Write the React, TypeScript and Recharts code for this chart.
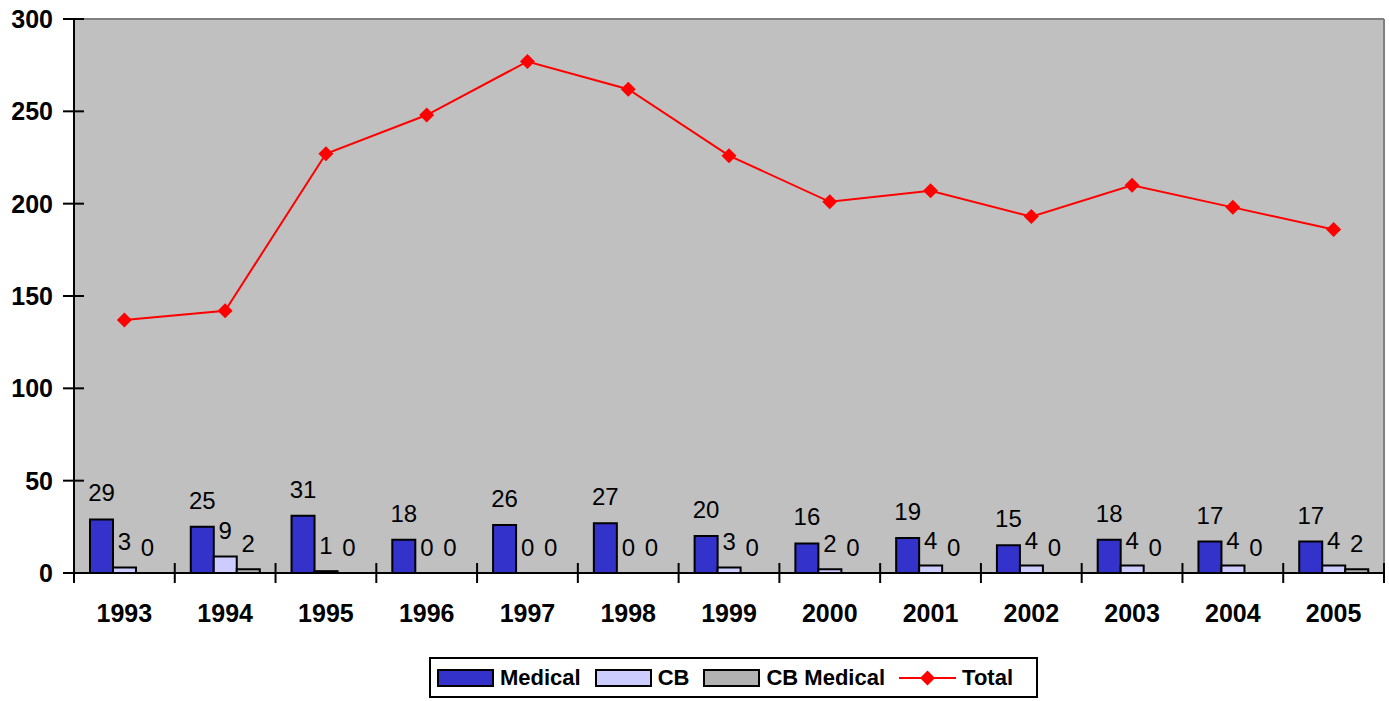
import React from 'react';
import {
  ComposedChart,
  Bar,
  Line,
  XAxis,
  YAxis,
  Legend,
  LabelList,
  CartesianGrid,
  ReferenceLine,
} from 'recharts';

const years = ['1993', '1994', '1995', '1996', '1997', '1998', '1999', '2000', '2001', '2002', '2003', '2004', '2005'];
const medical = [29, 25, 31, 18, 26, 27, 20, 16, 19, 15, 18, 17, 17];
const cb = [3, 9, 1, 0, 0, 0, 3, 2, 4, 4, 4, 4, 4];
const cbMedical = [0, 2, 0, 0, 0, 0, 0, 0, 0, 0, 0, 0, 2];
const total = [137, 142, 227, 248, 277, 262, 226, 201, 207, 193, 210, 198, 186];
const yTicks = [0, 50, 100, 150, 200, 250, 300];

const data = years.map((y, i) => ({
  year: y,
  Medical: medical[i],
  CB: cb[i],
  'CB Medical': cbMedical[i],
  Total: total[i],
}));

const FONT = '"Liberation Sans", Arial, sans-serif';

const COLORS = {
  Medical: '#3333CC',
  CB: '#CCCCFF',
  CBMedical: '#B2B2B2',
  Total: '#FF0000',
};

const YTick = (props: any) => {
  const { x, y, payload } = props;
  return (
    <g>
      <line x1={x - 11} x2={x + 10} y1={y} y2={y} stroke="#000" strokeWidth={2} />
      <text
        x={x - 21}
        y={y}
        dy={9}
        textAnchor="end"
        fontFamily={FONT}
        fontSize={25}
        fontWeight="bold"
        fill="#000"
      >
        {payload.value}
      </text>
    </g>
  );
};

const XTick = (props: any) => {
  const { x, y, payload, index, visibleTicksCount, width } = props;
  const half =
    payload && typeof payload.offset === 'number' && payload.offset > 0
      ? payload.offset
      : (width || 1310) / (visibleTicksCount || years.length) / 2;
  const isLast = index === (visibleTicksCount || years.length) - 1;
  return (
    <g>
      <line x1={x - half} x2={x - half} y1={y - 10} y2={y + 10} stroke="#000" strokeWidth={2} />
      {isLast && (
        <line x1={x + half} x2={x + half} y1={y - 10} y2={y + 10} stroke="#000" strokeWidth={2} />
      )}
      <text
        x={x}
        y={y}
        dy={49}
        textAnchor="middle"
        fontFamily={FONT}
        fontSize={25}
        fontWeight="bold"
        fill="#000"
      >
        {payload.value}
      </text>
    </g>
  );
};

const Diamond = (props: any) => {
  const { cx, cy } = props;
  if (cx == null || cy == null) return null;
  const r = 7.5;
  return (
    <polygon
      points={`${cx},${cy - r} ${cx + r},${cy} ${cx},${cy + r} ${cx - r},${cy}`}
      fill={COLORS.Total}
      stroke="none"
    />
  );
};

const makeValueLabel = (offset: number) => (props: any) => {
  const { x, y, width, value } = props;
  if (x == null || y == null || value == null) return null;
  return (
    <text
      x={Number(x) + Number(width) / 2}
      y={Number(y) - offset}
      textAnchor="middle"
      fontFamily={FONT}
      fontSize={24}
      fill="#000"
    >
      {value}
    </text>
  );
};

const legendItems = [
  { name: 'Medical', color: COLORS.Medical, type: 'rect' },
  { name: 'CB', color: COLORS.CB, type: 'rect' },
  { name: 'CB Medical', color: COLORS.CBMedical, type: 'rect' },
  { name: 'Total', color: COLORS.Total, type: 'line' },
];

const LegendContent = () => (
  <div
    style={{
      border: '2px solid #000',
      background: '#fff',
      height: 41,
      width: 609,
      boxSizing: 'border-box',
      display: 'flex',
      alignItems: 'center',
      paddingLeft: 6,
      fontFamily: FONT,
      fontSize: 22,
      fontWeight: 'bold',
      color: '#000',
      whiteSpace: 'nowrap',
    }}
  >
    {legendItems.map((it) => (
      <div key={it.name} style={{ display: 'flex', alignItems: 'center', marginRight: 14 }}>
        {it.type === 'rect' ? (
          <svg width={57} height={18} style={{ marginRight: 6 }}>
            <rect x={1} y={1} width={55} height={16} fill={it.color} stroke="#000" strokeWidth={2} />
          </svg>
        ) : (
          <svg width={57} height={18} style={{ marginRight: 6 }}>
            <line x1={0} x2={57} y1={9} y2={9} stroke={it.color} strokeWidth={2} />
            <polygon points="28.5,1.5 36,9 28.5,16.5 21,9" fill={it.color} />
          </svg>
        )}
        <span>{it.name}</span>
      </div>
    ))}
  </div>
);

export default function App() {
  return (
    <div style={{ position: 'absolute', left: 0, top: 0, width: 1389, height: 701, background: '#fff' }}>
      <ComposedChart
        width={1389}
        height={701}
        data={data}
        margin={{ top: 19, right: 0, left: 0, bottom: 3 }}
        barGap={0}
        barCategoryGap={16}
      >
        <CartesianGrid yAxisId="y" xAxisId="cat" fill="#C0C0C0" fillOpacity={1} horizontal={false} vertical={false} />
        <ReferenceLine yAxisId="y" xAxisId="cat" y={300} stroke="#808080" strokeWidth={2} />
        <XAxis
          xAxisId="cat"
          dataKey="year"
          type="category"
          height={84}
          axisLine={{ stroke: '#000', strokeWidth: 2 }}
          tickLine={false}
          tickSize={0}
          tickMargin={0}
          tick={<XTick />}
          interval={0}
        />
        <YAxis
          yAxisId="y"
          width={74}
          domain={[0, 300]}
          ticks={yTicks}
          axisLine={{ stroke: '#000', strokeWidth: 2 }}
          tickLine={false}
          tickSize={0}
          tickMargin={0}
          tick={<YTick />}
          interval={0}
        />
        <YAxis
          yAxisId="r"
          orientation="right"
          width={5}
          domain={[0, 300]}
          tick={false}
          tickLine={false}
          axisLine={{ stroke: '#808080', strokeWidth: 2 }}
        />
        <Legend
          verticalAlign="bottom"
          content={<LegendContent />}
          wrapperStyle={{ left: 429, width: 609 }}
        />
        <Bar xAxisId="cat" yAxisId="y" dataKey="Medical" fill={COLORS.Medical} stroke="#000" strokeWidth={2} barSize={23} minPointSize={0.01} isAnimationActive={false}>
          <LabelList dataKey="Medical" content={makeValueLabel(18)} />
        </Bar>
        <Bar xAxisId="cat" yAxisId="y" dataKey="CB" fill={COLORS.CB} stroke="#000" strokeWidth={2} barSize={23} minPointSize={0.01} isAnimationActive={false}>
          <LabelList dataKey="CB" content={makeValueLabel(17)} />
        </Bar>
        <Bar xAxisId="cat" yAxisId="y" dataKey="CB Medical" fill={COLORS.CBMedical} stroke="#000" strokeWidth={2} barSize={23} minPointSize={0.01} isAnimationActive={false}>
          <LabelList dataKey="CB Medical" content={makeValueLabel(17)} />
        </Bar>
        <Line
          xAxisId="cat"
          yAxisId="y"
          dataKey="Total"
          stroke={COLORS.Total}
          strokeWidth={2}
          dot={<Diamond />}
          activeDot={false}
          isAnimationActive={false}
        />
      </ComposedChart>
    </div>
  );
}
